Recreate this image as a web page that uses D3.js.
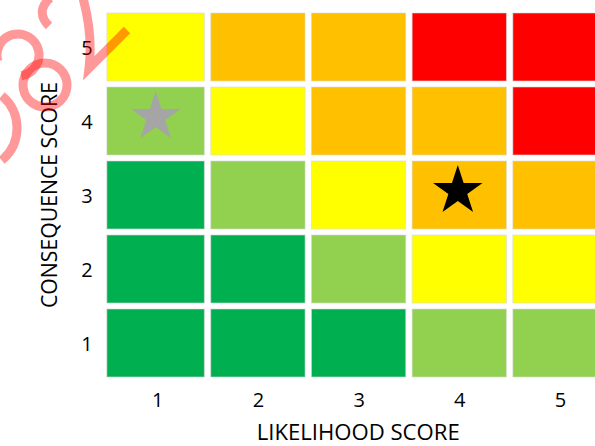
<!DOCTYPE html>
<html>
<head>
<meta charset="utf-8">
<script src="https://cdn.jsdelivr.net/npm/d3@7"></script>
<style>
  html, body { margin: 0; padding: 0; background: #fff; }
  svg { display: block; }
</style>
</head>
<body>
<script>
// ---- data ----
const likelihoodTicks = [1, 2, 3, 4, 5];
const consequenceTicks = [1, 2, 3, 4, 5];
// risk level index (0..4) per likelihood 1..5, one array per consequence row
const riskC1 = [0, 0, 0, 1, 1];
const riskC2 = [0, 0, 1, 2, 2];
const riskC3 = [0, 1, 2, 3, 3];
const riskC4 = [1, 2, 3, 3, 4];
const riskC5 = [2, 3, 3, 4, 4];
const riskRows = [riskC1, riskC2, riskC3, riskC4, riskC5];
const levelColors = ["#00B050", "#92D050", "#FFFF00", "#FFC000", "#FF0000"];
const starLikelihood = [1, 4];
const starConsequence = [4, 3];
const starColors = ["#A5A5A5", "#000000"];
const xTitle = "LIKELIHOOD SCORE";
const yTitle = "CONSEQUENCE SCORE";

// ---- layout ----
const W = 595, H = 446;
const svg = d3.select("body").append("svg").attr("width", W).attr("height", H);

const x = d3.scaleLinear().domain([0.5, 5.5]).range([106.85, 610.35]);
const y = d3.scaleLinear().domain([0.5, 5.5]).range([380, 10]);
const gapX = 6.4, gapY = 6;

const cells = [];
riskRows.forEach((row, ci) => row.forEach((lvl, li) => {
  cells.push({ l: likelihoodTicks[li], c: consequenceTicks[ci], lvl });
}));

const left = d => d.l === 1 ? x(d.l - 0.5) : x(d.l - 0.5) + gapX / 2;
svg.append("g").selectAll("rect").data(cells).join("rect")
  .attr("x", left)
  .attr("width", d => (x(d.l + 0.5) - gapX / 2) - left(d))
  .attr("y", d => y(d.c + 0.5) + gapY / 2)
  .attr("height", d => y(d.c - 0.5) - y(d.c + 0.5) - gapY)
  .attr("fill", d => levelColors[d.lvl])
  .attr("stroke", "#d9d9d9").attr("stroke-opacity", 0.6).attr("stroke-width", 1);

// stars
const starR = 26;
const star = d3.symbol().type(d3.symbolStar).size(starR * starR / 0.8908130915292852);
svg.append("g").selectAll("path").data(starLikelihood.map((l, i) => ({ l, c: starConsequence[i], col: starColors[i] })))
  .join("path")
  .attr("d", star)
  .attr("transform", d => `translate(${x(d.l) - 1.5},${y(d.c) - 4})`)
  .attr("fill", d => d.col);

// tick labels
const font = "'Open Sans', 'Noto Sans', sans-serif";
svg.append("g").selectAll("text").data(likelihoodTicks).join("text")
  .attr("x", d => x(d) + 0.5).attr("y", 406.5)
  .attr("text-anchor", "middle").attr("font-family", font).attr("font-size", 20).attr("fill", "#000")
  .text(d => d);
svg.append("g").selectAll("text").data(consequenceTicks).join("text")
  .attr("x", 87).attr("y", d => y(d) + 7.5)
  .attr("text-anchor", "middle").attr("font-family", font).attr("font-size", 20).attr("fill", "#000")
  .text(d => d);

// axis titles
svg.append("text")
  .attr("x", 256.7).attr("y", 440)
  .attr("font-family", font).attr("font-size", 21).attr("fill", "#000")
  .attr("textLength", 203).attr("lengthAdjust", "spacingAndGlyphs")
  .text(xTitle);
svg.append("text")
  .attr("transform", "translate(56.7,308) rotate(-90)")
  .attr("font-family", font).attr("font-size", 21).attr("fill", "#000")
  .attr("textLength", 226).attr("lengthAdjust", "spacingAndGlyphs")
  .text(yTitle);

// decorative translucent handwritten overlay (top-left)
const wm = svg.append("g").attr("fill", "none").attr("stroke", "#FF0000")
  .attr("stroke-opacity", 0.4).attr("stroke-width", 9);
const p = d3.path();
p.arc(18, 55, 21, Math.PI * 0.9, Math.PI * 2.45);
wm.append("path").attr("d", p.toString());
wm.append("circle").attr("cx", 45).attr("cy", 85).attr("r", 22);
const p2 = d3.path();
p2.arc(-25, 128, 42, -Math.PI * 0.28, Math.PI * 0.28);
wm.append("path").attr("d", p2.toString());
wm.append("path").attr("d", "M50,-2 Q35,12 49,26");
wm.append("path").attr("d", "M83,-2 Q93,35 89,68 L127,30").attr("stroke-linejoin", "miter");
</script>
</body>
</html>
